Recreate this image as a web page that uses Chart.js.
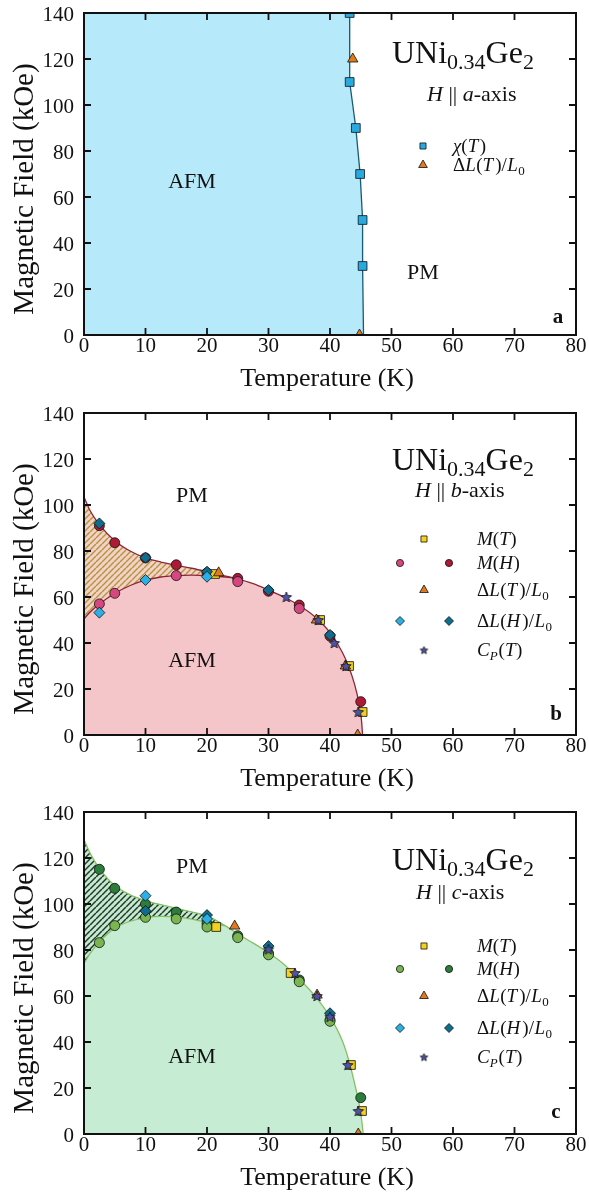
<!DOCTYPE html>
<html><head><meta charset="utf-8">
<script src="https://cdn.jsdelivr.net/npm/chart.js@4.4.1/dist/chart.umd.min.js"></script>
<style>
html,body{margin:0;padding:0;background:#fff;width:589px;height:1199px;overflow:hidden}
.p{position:absolute;left:0;width:589px;height:400px}
</style></head><body>
<div class="p" style="top:0"><canvas id="ca" width="589" height="400"></canvas></div>
<div class="p" style="top:400px"><canvas id="cb" width="589" height="400"></canvas></div>
<div class="p" style="top:799px"><canvas id="cc" width="589" height="400"></canvas></div>
<script>
// ---------- data ----------
const xTicks = [0,10,20,30,40,50,60,70,80];
const yTicks = [0,20,40,60,80,100,120,140];

// panel a (H || a)
const aChiT = [43.2,43.2,44.2,44.9,45.3,45.3];
const aChiH = [140,110,90,70,50,30];
const aDLT_T = [43.7,44.8];
const aDLT_H = [120,0];
const aLineT = [43.2,43.2,44.2,44.9,45.3,45.3,45.45];
const aLineH = [140,110,90,70,50,30,0];

// panel b (H || b)
const bUpperT = [0,1,2.5,5,7.5,10,12.5,15,17.5,20,22.5,24.5,27.5,30,32.5,35,37.5,40,42,43,44,44.7,45.1,45.3];
const bUpperH = [103.5,97.5,91.5,84.5,80,77,75.2,73.8,72.5,71,69.4,68.2,65.8,63,60,56.3,51.5,44.5,36,30,22,14,7,0];
const bLowerT = [0,1,2.5,5,7.5,10,12.5,15,17.5,20,22.5,24.5];
const bLowerH = [50.5,53.5,57,61.5,65,67.3,68.7,69.3,69.5,69.3,68.8,68.2];
const bMT_T = [21.3,38.4,43.1,45.3];          const bMT_H = [70,50,30,10];
const bMH1_T = [2.5,5,15,25,35];              const bMH1_H = [57,61.6,69.3,66.7,55];
const bMH2_T = [2.5,5,10,15,20,25,30,35,40,45]; const bMH2_H = [91,83.6,77,74,70.5,68.1,62.5,56.5,43,14.5];
const bDLT_T = [21.9,37.8,42.5,44.5];         const bDLT_H = [70.5,50,30,0];
const bDLH1_T = [2.5,10,20];                  const bDLH1_H = [53.2,67.4,68.8];
const bDLH2_T = [2.5,10,20,30,40];            const bDLH2_H = [92,77.1,71,63,43.5];
const bCP_T = [32.9,38.1,40.7,42.6,44.6];     const bCP_H = [60,50,40,30,10];

// panel c (H || c)
const cUpperT = [0,1,2.5,5,7.5,10,12.5,15,17.5,20,23,25,27.5,30,32.5,35,37.5,40,42,43,44,44.8,45.2,45.4];
const cUpperH = [128,122,115.5,108,104,101.5,99.7,98.1,96.6,94.8,90.5,87,83,78.8,73.8,67.3,60.2,51,40.5,32.5,22,12,5,0];
const cLowerT = [0,1,2.5,5,7.5,10,12.5,15,17.5,20,23];
const cLowerH = [74,78.5,83.5,89.5,92.5,94,94.6,94.3,93.4,92,90.5];
const cMT_T = [21.5,33.6,43.4,45.2];          const cMT_H = [90,70,30,10];
const cMH1_T = [2.5,5,10,15,20,25,30,35,40];  const cMH1_H = [83.2,90.6,94.2,93.5,90,85.4,77.9,66.2,49];
const cMH2_T = [2.5,5,10,15,20,25,30,35,40,45]; const cMH2_H = [115.1,106.8,100,96.5,91.5,86.2,78.6,67,49.6,15.8];
const cDLT_T = [24.5,37.9,44.6];              const cDLT_H = [90.4,60.4,0];
const cDLH1_T = [10,20];                      const cDLH1_H = [103.6,93.5];
const cDLH2_T = [10,20,30,40];                const cDLH2_H = [97,95.2,81.7,52.5];
const cCP_T = [30,34.3,37.9,40,42.9,44.6];    const cCP_H = [80.3,70,60,51,30,10];

// ---------- helpers ----------
const SERIF = '"Liberation Serif","Times New Roman","DejaVu Serif",serif';
const pts = (xs, ys) => xs.map((x, i) => ({x, y: ys[i]}));

function starImg(r, fill) {
  const c = document.createElement('canvas');
  const s = Math.ceil(2 * r + 3); c.width = s; c.height = s;
  const g = c.getContext('2d'); const cx = s / 2, cy = s / 2 + 0.5;
  g.beginPath();
  for (let i = 0; i < 10; i++) {
    const rr = i % 2 ? r * 0.45 : r; const a = -Math.PI / 2 + i * Math.PI / 5;
    g.lineTo(cx + rr * Math.cos(a), cy + rr * Math.sin(a));
  }
  g.closePath(); g.fillStyle = fill; g.fill();
  g.lineWidth = 0.8; g.strokeStyle = '#111'; g.stroke();
  return c;
}
function hatch(ctx, bg, fg) {
  const c = document.createElement('canvas'); c.width = 6; c.height = 6;
  const g = c.getContext('2d'); g.fillStyle = bg; g.fillRect(0, 0, 6, 6);
  g.strokeStyle = fg; g.lineWidth = 1.5;
  for (const k of [-6, 0, 6]) { g.beginPath(); g.moveTo(k, 6); g.lineTo(k + 6, 0); g.stroke(); }
  return ctx.createPattern(c, 'repeat');
}
function markers(label, xs, ys, style, color, r, order) {
  return {label, data: pts(xs, ys), showLine: false, pointStyle: style,
    pointRadius: r, pointHoverRadius: r, pointBackgroundColor: color, backgroundColor: color,
    pointBorderColor: '#111', borderColor: '#111', pointBorderWidth: 0.8, order, clip: 0};
}
function curve(data, color, mono) {
  return {data, showLine: true, borderColor: color, borderWidth: 1.3, pointRadius: 0,
    fill: false, order: 20, cubicInterpolationMode: mono ? 'monotone' : 'default', tension: 0, clip: 0};
}
function area(data, bg, fill, mono) {
  return {data, showLine: true, borderWidth: 0, borderColor: 'rgba(0,0,0,0)', backgroundColor: bg,
    pointRadius: 0, fill, order: 30, cubicInterpolationMode: mono ? 'monotone' : 'default', tension: 0, clip: 0};
}
function rich(ctx, x, y, parts, align) {
  let w = 0;
  for (const p of parts) { ctx.font = p.f; w += ctx.measureText(p.t).width + (p.sp || 0); }
  let cx = align === 'center' ? x - w / 2 : x;
  ctx.textAlign = 'left'; ctx.textBaseline = 'alphabetic';
  for (const p of parts) {
    ctx.font = p.f; ctx.fillText(p.t, cx, y + (p.dy || 0));
    cx += ctx.measureText(p.t).width + (p.sp || 0);
  }
}
const F = (s, it, b) => (it ? 'italic ' : '') + (b ? 'bold ' : '') + s + 'px ' + SERIF;
function legendText(ctx, key, x, y) {
  const s = 19, sb = 13;
  const map = {
    chi: [{t:'χ', f:F(s,true)}, {t:'(', f:F(s)}, {t:'T', f:F(s,true), sp:1.5}, {t:')', f:F(s)}],
    MT: [{t:'M', f:F(s,true)}, {t:'(', f:F(s)}, {t:'T', f:F(s,true), sp:0.5}, {t:')', f:F(s)}],
    MH: [{t:'M', f:F(s,true)}, {t:'(', f:F(s)}, {t:'H', f:F(s,true), sp:0.5}, {t:')', f:F(s)}],
    DLT: [{t:'Δ', f:F(s)}, {t:'L', f:F(s,true), sp:0.5}, {t:'(', f:F(s)}, {t:'T', f:F(s,true), sp:2}, {t:')/', f:F(s), sp:0.5}, {t:'L', f:F(s,true), sp:0.5}, {t:'0', f:F(sb), dy:4}],
    DLH: [{t:'Δ', f:F(s)}, {t:'L', f:F(s,true), sp:0.5}, {t:'(', f:F(s)}, {t:'H', f:F(s,true), sp:2}, {t:')/', f:F(s), sp:0.5}, {t:'L', f:F(s,true), sp:0.5}, {t:'0', f:F(sb), dy:4}],
    CP: [{t:'C', f:F(s,true)}, {t:'P', f:F(sb,true), dy:4, sp:1}, {t:'(', f:F(s)}, {t:'T', f:F(s,true), sp:0.5}, {t:')', f:F(s)}]
  };
  rich(ctx, x, y + 6, map[key], 'left');
}
function legendMark(ctx, style, color, r, x, y) {
  ctx.save(); ctx.fillStyle = color; ctx.strokeStyle = '#111'; ctx.lineWidth = 0.8;
  Chart.helpers.drawPoint(ctx, {pointStyle: style, radius: r, rotation: 0, borderWidth: 0.8}, x, y);
  ctx.restore();
}

function deco(cfg) {
  return {
    id: 'deco',
    afterDraw(chart) {
      const ctx = chart.ctx, a = chart.chartArea, xs = chart.scales.x, ys = chart.scales.y;
      ctx.save();
      ctx.fillStyle = '#111'; ctx.strokeStyle = '#111';
      // frame
      ctx.lineWidth = 2; ctx.strokeRect(a.left, a.top, a.right - a.left, a.bottom - a.top);
      // inward ticks
      ctx.lineWidth = 1.8; ctx.beginPath();
      for (const v of xTicks) { const p = xs.getPixelForValue(v);
        ctx.moveTo(p, a.bottom); ctx.lineTo(p, a.bottom - 7); ctx.moveTo(p, a.top); ctx.lineTo(p, a.top + 7); }
      for (const v of yTicks) { const p = ys.getPixelForValue(v);
        ctx.moveTo(a.left, p); ctx.lineTo(a.left + 7, p); ctx.moveTo(a.right, p); ctx.lineTo(a.right - 7, p); }
      ctx.stroke();
      // tick labels
      ctx.font = F(21); ctx.textBaseline = 'alphabetic';
      ctx.textAlign = 'center';
      for (const v of xTicks) ctx.fillText(String(v), xs.getPixelForValue(v), a.bottom + 17);
      ctx.textAlign = 'right';
      for (const v of yTicks) ctx.fillText(String(v), a.left - 10, ys.getPixelForValue(v) + 8);
      // axis titles
      ctx.font = F(26); ctx.textAlign = 'center';
      ctx.fillText('Temperature (K)', 327, a.bottom + 51);
      ctx.font = F(29);
      ctx.save(); ctx.translate(25, 189); ctx.rotate(-Math.PI / 2);
      ctx.textBaseline = 'middle'; ctx.fillText('Magnetic Field (kOe)', 0, 0); ctx.restore();
      // compound title
      rich(ctx, 392, cfg.titleY, [
        {t:'UNi', f:F(32)}, {t:'0.34', f:F(22), dy:6}, {t:'Ge', f:F(32)}, {t:'2', f:F(22), dy:6}], 'left');
      rich(ctx, cfg.subX, cfg.subY, [
        {t:'H', f:F(22,true)}, {t:' || ', f:F(22)}, {t:cfg.axis, f:F(22,true)}, {t:'-axis', f:F(22)}], 'left');
      // region labels
      ctx.font = F(22); ctx.textAlign = 'center'; ctx.textBaseline = 'alphabetic';
      ctx.fillText('AFM', cfg.afm[0], cfg.afm[1]);
      ctx.fillText('PM', cfg.pm[0], cfg.pm[1]);
      ctx.font = F(21, false, true); ctx.fillText(cfg.letter, cfg.letterPos[0], cfg.letterPos[1]);
      // legend
      for (const row of cfg.legend) {
        for (const m of row.marks) {
          if (m.img) ctx.drawImage(m.img, m.x - m.img.width / 2, row.y - m.img.height / 2);
          else legendMark(ctx, m.style, m.color, m.r, m.x, row.y);
        }
        ctx.fillStyle = '#111';
        legendText(ctx, row.key, cfg.legX, row.y);
      }
      ctx.restore();
    }
  };
}
function makeChart(id, datasets, cfg) {
  return new Chart(document.getElementById(id), {
    type: 'line',
    data: {datasets},
    options: {
      responsive: false, animation: false, events: [],
      layout: {padding: {left: 84, right: 13, top: 13, bottom: 65}},
      scales: {
        x: {type: 'linear', min: 0, max: 80, display: false},
        y: {type: 'linear', min: 0, max: 140, display: false}
      },
      plugins: {legend: {display: false}, tooltip: {enabled: false}}
    },
    plugins: [deco(cfg)]
  });
}

// colours
const C_CHI = '#2aa9e0', C_ORANGE = '#e07a1e', C_YEL = '#f3d11c', C_STAR = '#4f52a6';
const C_LBLUE = '#2ab0e6', C_TEAL = '#0d6d8e';

// ---------- panel a ----------
{
  const fillPts = [{x: 0, y: 140}].concat(pts(aLineT, aLineH));
  const ds = [
    markers('χ(T)', aChiT, aChiH, 'rect', C_CHI, 6.2, 1),
    markers('ΔL(T)/L0', aDLT_T, aDLT_H, 'triangle', C_ORANGE, 6, 0),
    curve(pts(aLineT, aLineH), '#165a74', false),
    area(fillPts, '#b6e9f9', 'start', false)
  ];
  makeChart('ca', ds, {
    titleY: 63, subX: 427, subY: 101, axis: 'a',
    afm: [192, 188], pm: [423, 279], letter: 'a', letterPos: [558, 323], legX: 453,
    legend: [
      {key: 'chi', y: 146, marks: [{style: 'rect', color: C_CHI, r: 4.3, x: 423}]},
      {key: 'DLT', y: 165, marks: [{style: 'triangle', color: C_ORANGE, r: 5, x: 423}]}
    ]
  });
}

// ---------- panel b ----------
{
  const ctx = document.getElementById('cb').getContext('2d');
  const up = pts(bUpperT, bUpperH), lo = pts(bLowerT, bLowerH);
  const joinT = bLowerT[bLowerT.length - 1];
  const afm = lo.concat(up.filter(p => p.x > joinT));
  const hatchUp = up.filter(p => p.x <= joinT);
  const star = starImg(5.5, C_STAR);
  const ds = [
    markers('M(T)', bMT_T, bMT_H, 'rect', C_YEL, 6.2, 4),
    markers('M(H) up', bMH1_T, bMH1_H, 'circle', '#d6477f', 5, 5),
    markers('M(H) down', bMH2_T, bMH2_H, 'circle', '#ad1a36', 5, 5),
    markers('ΔL(T)/L0', bDLT_T, bDLT_H, 'triangle', C_ORANGE, 6, 3),
    markers('ΔL(H)/L0 up', bDLH1_T, bDLH1_H, 'rectRot', C_LBLUE, 5.5, 2),
    markers('ΔL(H)/L0 down', bDLH2_T, bDLH2_H, 'rectRot', C_TEAL, 5.5, 2),
    markers('Cp(T)', bCP_T, bCP_H, star, C_STAR, 5, 1),
    curve(up, '#8e2638', true),
    curve(lo, '#8e2638', true),
    area(afm, '#f4c6c9', 'start', true),
    area(hatchUp, hatch(ctx, '#f4d2ca', '#b4963f'), 8, true)
  ];
  const star2 = starImg(4, C_STAR);
  makeChart('cb', ds, {
    titleY: 70, subX: 415, subY: 97, axis: 'b',
    afm: [192, 267], pm: [192, 102], letter: 'b', letterPos: [556, 320], legX: 477,
    legend: [
      {key: 'MT', y: 139, marks: [{style: 'rect', color: C_YEL, r: 4.3, x: 424}]},
      {key: 'MH', y: 163, marks: [{style: 'circle', color: '#d6477f', r: 3.6, x: 400}, {style: 'circle', color: '#ad1a36', r: 3.6, x: 449}]},
      {key: 'DLT', y: 190, marks: [{style: 'triangle', color: C_ORANGE, r: 5, x: 424}]},
      {key: 'DLH', y: 221, marks: [{style: 'rectRot', color: C_LBLUE, r: 4.5, x: 400}, {style: 'rectRot', color: C_TEAL, r: 4.5, x: 449}]},
      {key: 'CP', y: 250, marks: [{img: star2, x: 424}]}
    ]
  });
}

// ---------- panel c ----------
{
  const ctx = document.getElementById('cc').getContext('2d');
  const up = pts(cUpperT, cUpperH), lo = pts(cLowerT, cLowerH);
  const joinT = cLowerT[cLowerT.length - 1];
  const afm = lo.concat(up.filter(p => p.x > joinT));
  const hatchUp = up.filter(p => p.x <= joinT);
  const star = starImg(5.5, C_STAR);
  const ds = [
    markers('M(T)', cMT_T, cMT_H, 'rect', C_YEL, 6.2, 4),
    markers('M(H) up', cMH1_T, cMH1_H, 'circle', '#7ab64f', 5, 5),
    markers('M(H) down', cMH2_T, cMH2_H, 'circle', '#2c7d3c', 5, 5),
    markers('ΔL(T)/L0', cDLT_T, cDLT_H, 'triangle', C_ORANGE, 6, 3),
    markers('ΔL(H)/L0 up', cDLH1_T, cDLH1_H, 'rectRot', C_LBLUE, 5.5, 2),
    markers('ΔL(H)/L0 down', cDLH2_T, cDLH2_H, 'rectRot', C_TEAL, 5.5, 2),
    markers('Cp(T)', cCP_T, cCP_H, star, C_STAR, 5, 1),
    curve(up, '#86c065', true),
    curve(lo, '#86c065', true),
    area(afm, '#c6edd3', 'start', true),
    area(hatchUp, hatch(ctx, '#c6e9cf', '#1f3a2c'), 8, true)
  ];
  const star2 = starImg(4, C_STAR);
  makeChart('cc', ds, {
    titleY: 71, subX: 416, subY: 100, axis: 'c',
    afm: [192, 264], pm: [192, 74], letter: 'c', letterPos: [556, 319], legX: 477,
    legend: [
      {key: 'MT', y: 147, marks: [{style: 'rect', color: C_YEL, r: 4.3, x: 424}]},
      {key: 'MH', y: 170, marks: [{style: 'circle', color: '#7ab64f', r: 3.6, x: 400}, {style: 'circle', color: '#2c7d3c', r: 3.6, x: 449}]},
      {key: 'DLT', y: 197, marks: [{style: 'triangle', color: C_ORANGE, r: 5, x: 424}]},
      {key: 'DLH', y: 229, marks: [{style: 'rectRot', color: C_LBLUE, r: 4.5, x: 400}, {style: 'rectRot', color: C_TEAL, r: 4.5, x: 449}]},
      {key: 'CP', y: 258, marks: [{img: star2, x: 424}]}
    ]
  });
}
</script>
</body></html>
